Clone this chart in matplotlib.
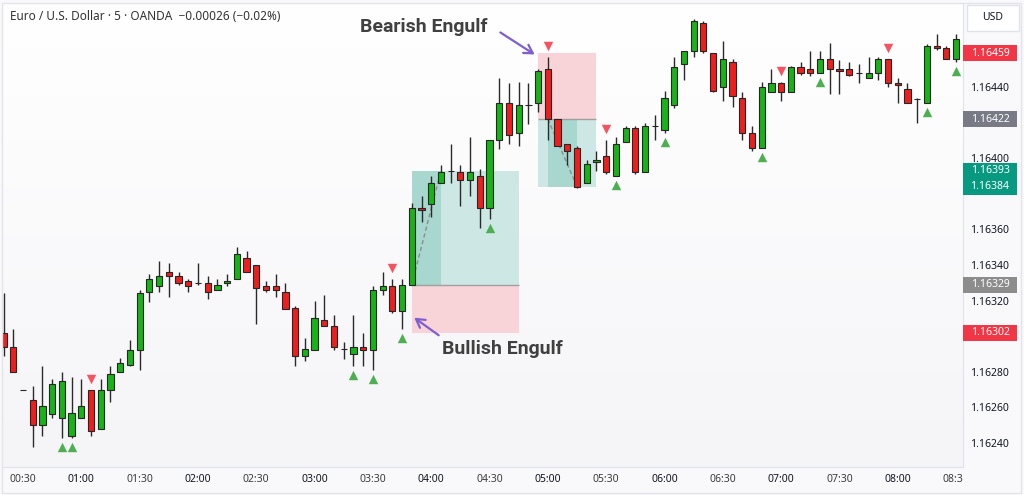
import numpy as np
import matplotlib
matplotlib.use("Agg")
import matplotlib.pyplot as plt
from matplotlib import transforms
from matplotlib.patches import Rectangle
from matplotlib.colors import LinearSegmentedColormap

plt.rcParams['font.family'] = ['Noto Sans', 'DejaVu Sans']

## EURUSD 5 min candles, x counted in bars from the 00:30 candle
first_bar = -2
opens = [1.16302, 1.16294, 1.16270, 1.16264, 1.16250, 1.16256, 1.16254, 1.16244, 1.16254, 1.16270,
         1.16248, 1.16270, 1.16280, 1.16284, 1.16292, 1.16325, 1.16328, 1.16336, 1.16334, 1.16331,
         1.16330, 1.16330, 1.16326, 1.16330, 1.16332, 1.16344, 1.16340, 1.16328, 1.16328, 1.16325,
         1.16316, 1.16289, 1.16292, 1.16309, 1.16306, 1.16293, 1.16290, 1.16294, 1.16292, 1.16326,
         1.16328, 1.16314, 1.16329, 1.16372, 1.16374, 1.16386, 1.16393, 1.16392, 1.16388, 1.16390,
         1.16372, 1.16410, 1.16431, 1.16414, 1.16430, 1.16431, 1.16450, 1.16422, 1.16408, 1.16406,
         1.16386, 1.16398, 1.16401, 1.16390, 1.16409, 1.16417, 1.16392, 1.16418, 1.16416, 1.16430,
         1.16453, 1.16460, 1.16476, 1.16459, 1.16440, 1.16454, 1.16434, 1.16414, 1.16406, 1.16437,
         1.16442, 1.16437, 1.16451, 1.16450, 1.16448, 1.16456, 1.16450, 1.16450, 1.16448, 1.16445,
         1.16448, 1.16456, 1.16442, 1.16439, 1.16433, 1.16431, 1.16463, 1.16462, 1.16456]
highs = [1.16324, 1.16304, 1.16270, 1.16272, 1.16283, 1.16276, 1.16280, 1.16277, 1.16276, 1.16270,
         1.16276, 1.16283, 1.16288, 1.16298, 1.16326, 1.16335, 1.16342, 1.16341, 1.16336, 1.16332,
         1.16341, 1.16334, 1.16332, 1.16335, 1.16350, 1.16348, 1.16340, 1.16331, 1.16335, 1.16330,
         1.16317, 1.16299, 1.16320, 1.16323, 1.16312, 1.16297, 1.16312, 1.16302, 1.16328, 1.16336,
         1.16332, 1.16332, 1.16375, 1.16379, 1.16390, 1.16396, 1.16408, 1.16396, 1.16412, 1.16394,
         1.16410, 1.16445, 1.16442, 1.16443, 1.16442, 1.16450, 1.16457, 1.16422, 1.16408, 1.16407,
         1.16399, 1.16404, 1.16410, 1.16412, 1.16418, 1.16418, 1.16420, 1.16424, 1.16438, 1.16457,
         1.16460, 1.16478, 1.16477, 1.16459, 1.16466, 1.16456, 1.16437, 1.16418, 1.16443, 1.16450,
         1.16443, 1.16452, 1.16454, 1.16460, 1.16460, 1.16465, 1.16455, 1.16454, 1.16453, 1.16457,
         1.16457, 1.16456, 1.16445, 1.16442, 1.16434, 1.16464, 1.16470, 1.16463, 1.16470]
lows = [1.16289, 1.16280, 1.16270, 1.16238, 1.16244, 1.16254, 1.16243, 1.16243, 1.16254, 1.16244,
        1.16248, 1.16263, 1.16280, 1.16283, 1.16281, 1.16319, 1.16325, 1.16322, 1.16329, 1.16325,
        1.16329, 1.16321, 1.16326, 1.16328, 1.16332, 1.16336, 1.16307, 1.16325, 1.16322, 1.16315,
        1.16283, 1.16286, 1.16292, 1.16306, 1.16292, 1.16287, 1.16283, 1.16283, 1.16281, 1.16323,
        1.16313, 1.16304, 1.16329, 1.16364, 1.16367, 1.16386, 1.16386, 1.16373, 1.16379, 1.16361,
        1.16366, 1.16405, 1.16408, 1.16407, 1.16419, 1.16426, 1.16410, 1.16407, 1.16396, 1.16383,
        1.16386, 1.16393, 1.16391, 1.16390, 1.16409, 1.16391, 1.16392, 1.16410, 1.16414, 1.16428,
        1.16444, 1.16457, 1.16459, 1.16437, 1.16432, 1.16429, 1.16410, 1.16404, 1.16406, 1.16437,
        1.16432, 1.16437, 1.16447, 1.16446, 1.16448, 1.16436, 1.16436, 1.16446, 1.16442, 1.16445,
        1.16444, 1.16440, 1.16431, 1.16431, 1.16420, 1.16431, 1.16461, 1.16456, 1.16454]
closes = [1.16294, 1.16280, 1.16270, 1.16250, 1.16261, 1.16273, 1.16275, 1.16257, 1.16261, 1.16247,
          1.16270, 1.16279, 1.16285, 1.16292, 1.16324, 1.16332, 1.16334, 1.16334, 1.16330, 1.16328,
          1.16330, 1.16325, 1.16329, 1.16331, 1.16346, 1.16336, 1.16327, 1.16326, 1.16326, 1.16315,
          1.16289, 1.16293, 1.16310, 1.16306, 1.16294, 1.16293, 1.16294, 1.16292, 1.16326, 1.16328,
          1.16314, 1.16329, 1.16372, 1.16371, 1.16386, 1.16392, 1.16393, 1.16388, 1.16392, 1.16372,
          1.16410, 1.16431, 1.16413, 1.16430, 1.16430, 1.16449, 1.16422, 1.16407, 1.16404, 1.16384,
          1.16397, 1.16399, 1.16392, 1.16408, 1.16417, 1.16392, 1.16418, 1.16418, 1.16434, 1.16451,
          1.16460, 1.16477, 1.16460, 1.16438, 1.16456, 1.16435, 1.16414, 1.16406, 1.16440, 1.16442,
          1.16437, 1.16451, 1.16448, 1.16448, 1.16456, 1.16450, 1.16449, 1.16447, 1.16448, 1.16448,
          1.16456, 1.16442, 1.16441, 1.16431, 1.16433, 1.16463, 1.16462, 1.16456, 1.16467]

## bars with engulfing signals
bull_signals = [4, 5, 34, 36, 39, 48, 61, 66, 76, 82, 93, 96]
bear_signals = [7, 38, 54, 60, 78, 89]

## long / short position tools
long_start, long_fill, long_hit, long_end = 40, 40, 43, 51
long_entry, long_target, long_stop = 1.16329, 1.16393, 1.16302
short_start, short_fill, short_hit, short_end = 53, 54, 57, 59
short_entry, short_target, short_stop = 1.16422, 1.16384, 1.16459

price_tags = [1.16459, 1.16422, 1.16393, 1.16384, 1.16329, 1.16302]
tag_colors = ['#f23645', '#787b86', '#089981', '#089981', '#8c8c8c', '#f23645']

tick_bars = list(range(0, 97, 6))
tick_labels = ['00:30', '01:00', '01:30', '02:00', '02:30', '03:00', '03:30', '04:00', '04:30',
               '05:00', '05:30', '06:00', '06:30', '07:00', '07:30', '08:00', '08:30']
price_ticks = [1.16240, 1.16260, 1.16280, 1.16300, 1.16320, 1.16340, 1.16360, 1.16380,
               1.16400, 1.16420, 1.16440, 1.16460]

W, H = 1024, 495
fig = plt.figure(figsize=(W / 100, H / 100), dpi=100, facecolor='#f9f9fb')
ax = fig.add_axes([2 / W, 28 / H, 961 / W, 464 / H])
ymin, ymax = 1.162265, 1.164872
xmin, xmax = -2.16, 96.71

# background
bg = LinearSegmentedColormap.from_list('bg', ['#ffffff', '#f5f5f8'])
ax.imshow(np.linspace(0, 1, 256).reshape(-1, 1), cmap=bg, extent=[0, 1, 0, 1],
          transform=ax.transAxes, aspect='auto', zorder=0)

o = np.array(opens)
h = np.array(highs)
l = np.array(lows)
c = np.array(closes)
x = np.arange(len(o)) + first_bar

def position_box(start, fill_from, hit, end, entry, target, stop):
    ax.add_patch(Rectangle((start, min(entry, stop)), end - start, abs(entry - stop),
                           fc='#f8d4d8', ec='none', zorder=1))
    ax.add_patch(Rectangle((start, min(entry, target)), end - start, abs(target - entry),
                           fc='#cde8e4', ec='none', zorder=1))
    ax.add_patch(Rectangle((fill_from, min(entry, target)), hit - fill_from, abs(target - entry),
                           fc='#a7d7ce', ec='none', zorder=1.1))
    ax.hlines(entry, start, end, color='#a0a0a0', lw=1, zorder=1.2)
    ax.plot([fill_from, hit], [entry, target], ls=(0, (3, 2)), color='#8c8c8c', lw=1, zorder=1.3)

position_box(long_start, long_fill, long_hit, long_end, long_entry, long_target, long_stop)
position_box(short_start, short_fill, short_hit, short_end, short_entry, short_target, short_stop)

# candles
up = c >= o
cols = np.where(up, '#17b417', '#f01d1d')
ax.vlines(x, l, h, color='#2a2a2a', lw=1, zorder=3)
ax.bar(x, np.abs(c - o), bottom=np.minimum(o, c), width=0.64, color=cols,
       edgecolor='#262626', linewidth=0.8, zorder=4)

# signal triangles
bull_idx = np.array(bull_signals) - first_bar
bear_idx = np.array(bear_signals) - first_bar
below = transforms.offset_copy(ax.transData, fig=fig, y=-9, units='dots')
above = transforms.offset_copy(ax.transData, fig=fig, y=11, units='dots')
ax.scatter(x[bull_idx], l[bull_idx], marker='^', s=46, color='#4caf50', linewidths=0,
           transform=below, zorder=5)
ax.scatter(x[bear_idx], h[bear_idx], marker='v', s=46, color='#f7525f', linewidths=0,
           transform=above, zorder=5)

# annotations
ax.text(41.26, 1.164737, 'Bearish Engulf', family='Roboto', fontweight='bold', fontsize=14,
        color='#404040', ha='center', va='center', zorder=8)
ax.text(49.28, 1.162928, 'Bullish Engulf', family='Roboto', fontweight='bold', fontsize=14,
        color='#404040', ha='center', va='center', zorder=8)
arrow = dict(arrowstyle='->,head_length=0.6,head_width=0.35', color='#7e5fd0', lw=1.6)
ax.annotate('', xy=(52.88, 1.164574), xytext=(48.87, 1.164715), arrowprops=arrow, zorder=8)
ax.annotate('', xy=(40.02, 1.163113), xytext=(43.0, 1.162996), arrowprops=arrow, zorder=8)

ax.set_xlim(xmin, xmax)
ax.set_ylim(ymin, ymax)

# axes styling
for s in ['top', 'left']:
    ax.spines[s].set_visible(False)
for s in ['right', 'bottom']:
    ax.spines[s].set_color('#e0e3eb')
ax.yaxis.tick_right()
# scale labels that sit under a price tag are hidden, like on the chart
half = 8 / 464 * (ymax - ymin)
ylabels = []
for p in price_ticks:
    hidden = any(abs(p - t) < 1.3 * half for t in price_tags)
    ylabels.append('' if hidden else f'{p:.5f}')
ax.set_yticks(price_ticks, ylabels)
ax.set_xticks(tick_bars, tick_labels)
ax.tick_params(axis='y', length=0, pad=5, labelsize=7.5, labelcolor='#131722')
ax.tick_params(axis='x', length=0, pad=5, labelsize=7.5, labelcolor='#131722')
for lab in ax.get_xticklabels():
    if lab.get_text().endswith(':00'):
        lab.set_fontweight('bold')
    else:
        lab.set_color('#3c3c3c')
clip = transforms.TransformedBbox(transforms.Bbox.from_extents(0, 0, 1, 1),
                                  transforms.blended_transform_factory(ax.transAxes, fig.transFigure))
last = ax.xaxis.get_major_ticks()[-1].label1
last.set_clip_box(clip)
last.set_clip_on(True)

# price tags on the scale
tag_trans = transforms.blended_transform_factory(ax.transAxes, ax.transData)
for p, col in zip(price_tags, tag_colors):
    ax.add_patch(Rectangle((1.0, p - half), 54 / 961, 2 * half, transform=tag_trans,
                           fc=col, ec='none', clip_on=False, zorder=6))
    ax.text(1 + 27 / 961, p, f'{p:.5f}', transform=tag_trans, ha='center', va='center',
            color='white', fontsize=7.5, clip_on=False, zorder=7)

# header, currency box and frame
fig.text(10 / W, 1 - 17 / H, 'Euro / U.S. Dollar \u00b7 5 \u00b7 OANDA  \u22120.00026 (\u22120.02%)',
         fontsize=8.5, color='#333333', va='center')
fig.patches.append(Rectangle((967 / W, 1 - 31 / H), 52 / W, 26 / H, transform=fig.transFigure,
                             fc='white', ec='#e0e3eb', lw=1))
fig.text(993 / W, 1 - 18 / H, 'USD', fontsize=7.5, color='#131722', ha='center', va='center')
fig.patches.append(Rectangle((2 / W, 2 / H), 1019 / W, 490 / H, transform=fig.transFigure,
                             fill=False, ec='#e4e4ea', lw=1))

fig.savefig('out.png', dpi=100, facecolor=fig.get_facecolor())
